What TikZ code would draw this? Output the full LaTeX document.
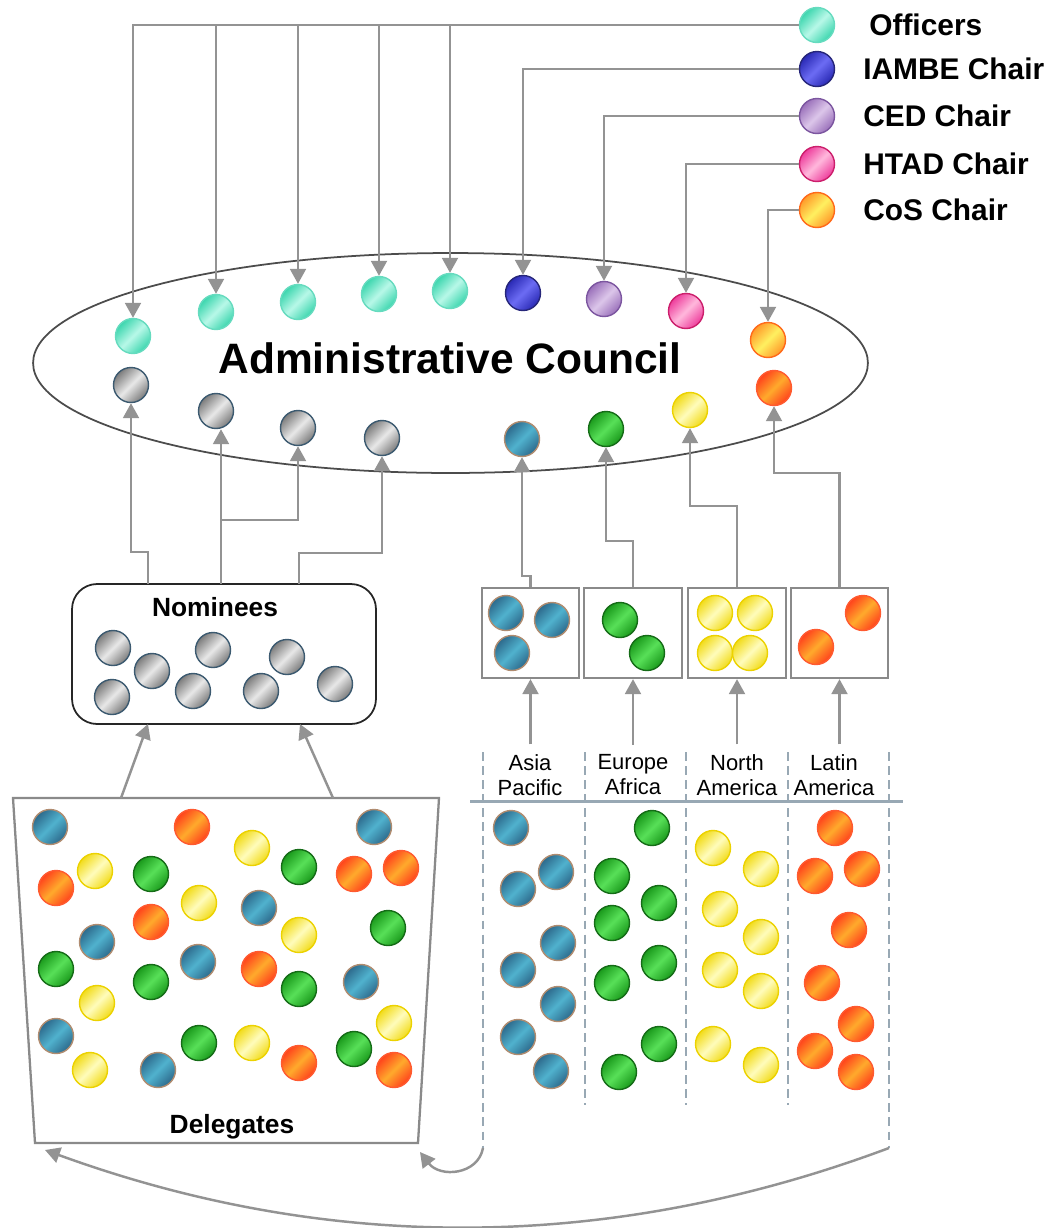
\documentclass[tikz,border=0pt]{standalone}
\usepackage{fontspec}
\setmainfont{Liberation Sans}
\usetikzlibrary{arrows.meta,shapes.geometric}
\definecolor{lineG}{HTML}{939393}
\definecolor{tealD}{HTML}{3CD6AE}\definecolor{tealL}{HTML}{B8F8E8}\definecolor{tealB}{HTML}{66DBBF}
\definecolor{iamD}{HTML}{2A2AB5}\definecolor{iamL}{HTML}{6C6CF4}\definecolor{iamB}{HTML}{26267A}
\definecolor{cedD}{HTML}{9A70BA}\definecolor{cedL}{HTML}{DCC6EA}\definecolor{cedB}{HTML}{7C56A0}
\definecolor{htD}{HTML}{EE3D9C}\definecolor{htL}{HTML}{FFB8DC}\definecolor{htB}{HTML}{CC1F6C}
\definecolor{cosD}{HTML}{FF9A2A}\definecolor{cosL}{HTML}{FFF060}\definecolor{cosB}{HTML}{FF6A1A}
\definecolor{grD}{HTML}{7C7C7C}\definecolor{grL}{HTML}{E8E8E8}\definecolor{grB}{HTML}{3C5A70}
\definecolor{blD}{HTML}{2D6A8C}\definecolor{blL}{HTML}{50B2CE}\definecolor{blB}{HTML}{B08C70}
\definecolor{gnD}{HTML}{1A9A1C}\definecolor{gnL}{HTML}{58E058}\definecolor{gnB}{HTML}{156C17}
\definecolor{ylD}{HTML}{F2DC1C}\definecolor{ylL}{HTML}{FFFCBC}\definecolor{ylB}{HTML}{ECD200}
\definecolor{orD}{HTML}{FF431C}\definecolor{orL}{HTML}{FFAA2C}\definecolor{orB}{HTML}{FF5A30}
\definecolor{slate}{HTML}{98A8B4}
\definecolor{boxG}{HTML}{8A8A8A}
\begin{document}
\begin{tikzpicture}[x=0.02cm,y=-0.02cm,
  conn/.style={draw=lineG, line width=1.4pt, -{Triangle[length=8.5pt,width=9pt]}},
  ball/.style={circle, inner sep=0pt, minimum size=0.7cm, line width=0.8pt},
  gl/.style n args={4}{ball, draw=#1, left color=#2, right color=#4, middle color=#3, shading angle=45},
  bTeal/.style={gl={tealB}{tealD}{tealL}{tealD}},
  bIam/.style={gl={iamB}{iamD}{iamL}{iamD}},
  bCed/.style={gl={cedB}{cedD}{cedL}{cedD}},
  bHt/.style={gl={htB}{htD}{htL}{htD}},
  bCos/.style={gl={cosB}{cosD}{cosL}{cosD}},
  bGr/.style={gl={grB}{grD}{grL}{grD}},
  bBl/.style={gl={blB}{blD}{blL}{blD}},
  bGn/.style={gl={gnB}{gnD}{gnL}{gnD}},
  bYl/.style={gl={ylB}{ylD}{ylL}{ylD}},
  bOr/.style={gl={orB}{orD}{orL}{orD}},
  legtext/.style={anchor=west, inner sep=0pt, font=\fontsize{17}{20}\selectfont\bfseries},
  boxlabel/.style={font=\fontsize{15}{18}\selectfont\bfseries, inner sep=0pt},
  reglabel/.style={align=center, inner sep=1pt, font=\fontsize{12.5}{14.2}\selectfont},
  rbox/.style={draw=boxG, line width=1.3pt, minimum width=1.95cm, minimum height=1.8cm, inner sep=0pt},
  sep/.style={draw=slate, line width=1.1pt, dash pattern=on 5pt off 3pt}
]
\useasboundingbox (0,0) rectangle (1062,1228);
\fill[white] (0,0) rectangle (1062,1228);

% Council ellipse
\node[ellipse, draw=black!70, line width=1pt, minimum width=16.7cm, minimum height=4.4cm, inner sep=0pt] (council) at (450.5,363) {};
\node[font=\fontsize{24.2}{28}\selectfont\bfseries, inner sep=0pt] (ctitle) at (450,358) {Administrative Council};

% Legend
\node[bTeal] (lo) at (817,25) {};
\node[bIam]  (li) at (817,69) {};
\node[bCed]  (lc) at (817,116) {};
\node[bHt]   (lh) at (817,164) {};
\node[bCos]  (ls) at (817,210) {};
\node[legtext] (tlo) at (869,25) {Officers};
\node[legtext] (tli) at (863,69) {IAMBE Chair};
\node[legtext] (tlc) at (863,116) {CED Chair};
\node[legtext] (tlh) at (863,164) {HTAD Chair};
\node[legtext] (tls) at (863,210) {CoS Chair};

% Council members
\node[bTeal] (o1) at (133,336) {};
\node[bTeal] (o2) at (216,312) {};
\node[bTeal] (o3) at (298,302) {};
\node[bTeal] (o4) at (379,294) {};
\node[bTeal] (o5) at (450,291) {};
\node[bIam]  (ci) at (523,293) {};
\node[bCed]  (cc) at (604,299) {};
\node[bHt]   (ch) at (686,311) {};
\node[bCos]  (cs) at (768,340) {};
\node[bGr] (g1) at (131,385) {};
\node[bGr] (g2) at (216,411) {};
\node[bGr] (g3) at (298,428) {};
\node[bGr] (g4) at (382,438) {};
\node[bBl] (ra) at (522,439) {};
\node[bGn] (re) at (606,429) {};
\node[bYl] (rn) at (690,410) {};
\node[bOr] (rl) at (774,388) {};

% Legend connectors
\draw[conn] (lo.west) -| (o1.north);
\foreach \n in {o2,o3,o4,o5} \draw[conn] (\n |- lo.west) -- (\n.north);
\draw[conn] (li.west) -| (ci.north);
\draw[conn] (lc.west) -| (cc.north);
\draw[conn] (lh.west) -| (ch.north);
\draw[conn] (ls.west) -| (cs.north);

% Nominees
\node[draw=black!85, line width=1pt, rounded corners=0.5cm, minimum width=6.08cm, minimum height=2.8cm, inner sep=0pt] (nom) at (224,654) {};
\node[boxlabel] (tnom) at (215,607) {Nominees};
\foreach \x/\y [count=\i] in {113/648,152/671,213/650,287/657,112/697,193/691,261/691,335/684}
  \node[bGr] (nm\i) at (\x,\y) {};
\coordinate (n1) at (148,584);
\coordinate (n2) at (221,584);
\coordinate (n3) at (299,584);
\draw[conn] (n1) -- ++(0,-32) -| (g1.south);
\draw[conn] (n2) -- (n2 |- g2.south);
\draw[conn] (n2) ++(0,-64) -| (g3.south);
\draw[conn] (n3) -- ++(0,-31) -| (g4.south);

% Delegates
\coordinate (dTL) at (13,798);
\coordinate (dTR) at (439,798);
\coordinate (dBR) at (418,1143);
\coordinate (dBL) at (35,1143);
\draw[draw=boxG, line width=1.3pt] (dTL) -- (dTR) -- (dBR) -- (dBL) -- cycle;
\node[boxlabel] (tdel) at (232,1127) {Delegates};
\foreach \s/\x/\y [count=\i] in {bBl/50/827, bOr/192/827, bBl/374/827, bYl/252/848, bYl/95/871, bGn/151/874, bGn/299/867, bOr/354/874, bOr/401/868, bOr/56/888, bYl/199/903, bBl/259/908, bOr/151/922, bYl/299/935, bGn/388/928, bBl/97/942, bGn/56/969, bBl/198/962, bOr/259/969, bGn/151/982, bGn/299/989, bBl/361/982, bYl/97/1003, bYl/394/1023, bBl/56/1036, bGn/199/1043, bYl/252/1043, bGn/354/1049, bYl/90/1070, bBl/158/1070, bOr/299/1063, bOr/394/1070}
  \node[\s] (dl\i) at (\x,\y) {};
\coordinate (d1) at (121,798);
\coordinate (d2) at (333,798);
\coordinate (nb1) at (148,724);
\coordinate (nb2) at (300,724);
\draw[conn] (d1) -- (nb1);
\draw[conn] (d2) -- (nb2);

% Region boxes
\node[rbox] (bA) at (530.5,633) {};
\node[rbox] (bE) at (633,633) {};
\node[rbox] (bN) at (737,633) {};
\node[rbox] (bL) at (839.5,633) {};
\node[bBl] (ba1) at (506,613) {};
\node[bBl] (ba2) at (552,620) {};
\node[bBl] (ba3) at (512,653) {};
\node[bGn] (be1) at (620,620) {};
\node[bGn] (be2) at (647,653) {};
\node[bYl] (bn1) at (715,613) {};
\node[bYl] (bn2) at (755,613) {};
\node[bYl] (bn3) at (715,653) {};
\node[bYl] (bn4) at (750,653) {};
\node[bOr] (bl1) at (863,613) {};
\node[bOr] (bl2) at (816,647) {};

\draw[conn] (bA.north) -- ++(0,-11) -| (ra.south);
\draw[conn] (bE.north) -- ++(0,-46) -| (re.south);
\draw[conn] (bN.north) -- ++(0,-81) -| (rn.south);
\draw[conn] (bL.north) -- ++(0,-114) -| (rl.south);

% Region labels
\node[reglabel] (tA) at (530,775) {Asia\\Pacific};
\node[reglabel] (tE) at (633,775) {Europe\\Africa};
\node[reglabel] (tN) at (737,775) {North\\America};
\node[reglabel] (tL) at (834,775) {Latin\\America};
\draw[conn] (tA.north -| bA.south) ++(0,-8) -- (bA.south);
\draw[conn] (tE.north -| bE.south) ++(0,-8) -- (bE.south);
\draw[conn] (tN.north -| bN.south) ++(0,-8) -- (bN.south);
\draw[conn] (tL.north -| bL.south) ++(0,-8) -- (bL.south);

% Region columns
\coordinate (h1) at (470,801);
\coordinate (h2) at (903,801);
\draw[draw=slate, line width=1.7pt] (h1) -- (h2);
\draw[sep] (483,752) -- (483,1148);
\draw[sep] (585,752) -- (585,1105);
\draw[sep] (686,752) -- (686,1105);
\draw[sep] (788,752) -- (788,1105);
\draw[sep] (889,752) -- (889,1148);
\foreach \s/\x/\y [count=\i] in {bBl/511/828, bBl/556/872, bBl/518/889, bBl/558/943, bBl/518/970, bBl/558/1004, bBl/518/1037, bBl/551/1071,
  bGn/652/828, bGn/612/876, bGn/659/903, bGn/612/923, bGn/659/963, bGn/612/983, bGn/659/1044, bGn/619/1072,
  bYl/713/848, bYl/761/869, bYl/720/909, bYl/761/937, bYl/720/970, bYl/761/991, bYl/713/1044, bYl/761/1065,
  bOr/835/828, bOr/815/876, bOr/862/869, bOr/849/930, bOr/822/983, bOr/856/1024, bOr/815/1051, bOr/856/1072}
  \node[\s] (rc\i) at (\x,\y) {};

% Return arcs
\coordinate (aR) at (889,1148);
\coordinate (aL) at (483,1148);
\coordinate (tgL) at (45,1150);
\coordinate (tgR) at (420,1152);
\draw[conn] (aR) .. controls (608,1253) and (328,1253) .. (tgL);
\draw[conn] (aL) .. controls (478,1175) and (440,1178) .. (tgR);
\end{tikzpicture}
\end{document}
